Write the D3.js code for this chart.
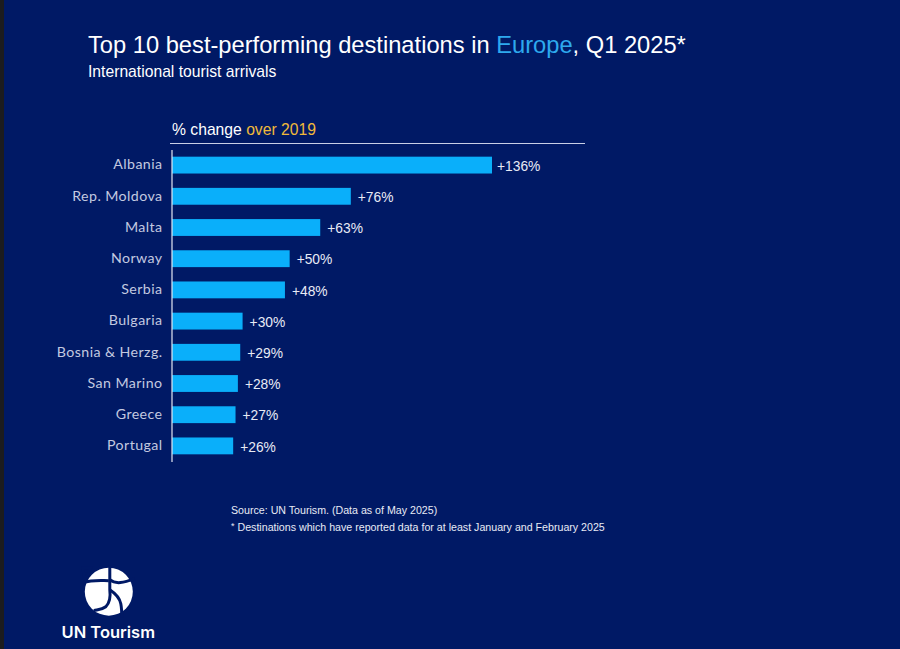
<!DOCTYPE html>
<html>
<head>
<meta charset="utf-8">
<script src="https://cdn.jsdelivr.net/npm/d3@7"></script>
<style>
  html, body { margin: 0; padding: 0; background: #001965; }
  svg { display: block; }
</style>
</head>
<body>
<div id="chart"></div>
<script>
var categories = ['Albania', 'Rep. Moldova', 'Malta', 'Norway', 'Serbia', 'Bulgaria', 'Bosnia & Herzg.', 'San Marino', 'Greece', 'Portugal'];
var values = [136, 76, 63, 50, 48, 30, 29, 28, 27, 26];

var width = 900;
var height = 649;
var sans = '"Liberation Sans", Arial, sans-serif';

var svg = d3.select('#chart')
  .append('svg')
    .attr('width', width)
    .attr('height', height);

svg.append('rect')
  .attr('width', width)
  .attr('height', height)
  .attr('fill', '#001965');

// dark strip from the screenshot edge
svg.append('rect')
  .attr('width', 4)
  .attr('height', height)
  .attr('fill', '#1c1c1e');

// scales
var x = d3.scaleLinear()
  .domain([0, 136])
  .range([172, 492]);

var y = d3.scaleBand()
  .domain(categories)
  .range([149.5, 461.5])
  .paddingInner(0.46)
  .paddingOuter(0.23);

// title
var title = svg.append('text')
  .attr('x', 88)
  .attr('y', 52.5)
  .attr('font-family', sans)
  .attr('font-size', 23.7)
  .attr('fill', '#ffffff');
title.append('tspan').text('Top 10 best-performing destinations in ');
title.append('tspan').attr('fill', '#2ea9ee').text('Europe');
title.append('tspan').text(', Q1 2025*');

svg.append('text')
  .attr('x', 88)
  .attr('y', 77)
  .attr('font-family', sans)
  .attr('font-size', 15.7)
  .attr('fill', '#ffffff')
  .text('International tourist arrivals');

// header over the bars
var head = svg.append('text')
  .attr('x', 172)
  .attr('y', 135)
  .attr('font-family', sans)
  .attr('font-size', 15.7)
  .attr('fill', '#ffffff');
head.append('tspan').text('% change ');
head.append('tspan').attr('fill', '#f0b93a').text('over 2019');

svg.append('line')
  .attr('x1', 170).attr('x2', 585)
  .attr('y1', 143.5).attr('y2', 143.5)
  .attr('stroke', '#c9cfe6')
  .attr('stroke-width', 1);

// bars
svg.selectAll('rect.bar')
  .data(values).enter()
  .append('rect')
  .attr('class', 'bar')
  .attr('x', x(0))
  .attr('y', function(d, i) { return y(categories[i]); })
  .attr('width', function(d) { return x(d) - x(0); })
  .attr('height', y.bandwidth())
  .attr('fill', '#0aaffa');

// category axis, the labels sit to the left of the line
var yAxis = svg.append('g')
  .attr('transform', 'translate(171.5,0)')
  .call(d3.axisLeft(y).tickSize(0).tickPadding(9));
yAxis.select('.domain')
  .attr('stroke', '#e4e7f2')
  .attr('stroke-width', 1.2);
yAxis.selectAll('text')
  .attr('font-family', 'Lato, sans-serif')
  .attr('font-size', 14.2)
  .attr('letter-spacing', 0.42)
  .attr('dy', '0.3em')
  .attr('fill', '#c3c9e0');

// value labels, the long first bar has its label a little closer
svg.selectAll('text.value')
  .data(values).enter()
  .append('text')
  .attr('class', 'value')
  .attr('x', function(d, i) { return x(d) + (i === 0 ? 5 : 7); })
  .attr('y', function(d, i) { return y(categories[i]) + y.bandwidth() / 2 + 5.6; })
  .attr('font-family', sans)
  .attr('font-size', 13.8)
  .attr('fill', '#e8ebf5')
  .text(function(d) { return '+' + d + '%'; });

// footnotes
svg.append('text')
  .attr('x', 231)
  .attr('y', 514)
  .attr('font-family', sans)
  .attr('font-size', 10.65)
  .attr('fill', '#e8ebf5')
  .text('Source: UN Tourism. (Data as of May 2025)');

var note = svg.append('text')
  .attr('x', 231)
  .attr('y', 531)
  .attr('font-family', sans)
  .attr('font-size', 10.65)
  .attr('fill', '#e8ebf5');
note.append('tspan').attr('dy', -2).attr('font-size', 9).text('*');
note.append('tspan').attr('dy', 2).text(' Destinations which have reported data for at least January and February 2025');

// logo: globe cut into land shapes
var logo = svg.append('g').attr('transform', 'translate(108.8,591.7)');
logo.append('circle').attr('r', 24).attr('fill', '#ffffff');
var cuts = [
  'M-26,-9 C-16,-12 -8,-11 0,-11',
  'M1,-26 L1,-2 C2,6 1,11 -3,15 C-7,18 -11,18 -15,19',
  'M1,-2 C7,2 11,7 12,12 C13,17 13,20 13,26',
  'M1,-12 C7,-7 15,-9 26,-13',
  'M-24,-11 L-18,-24 L-26,-24 Z'
];
logo.selectAll('path')
  .data(cuts).enter()
  .append('path')
  .attr('d', function(d) { return d; })
  .attr('fill', 'none')
  .attr('stroke', '#001965')
  .attr('stroke-width', 3);

svg.append('text')
  .attr('x', 61.5)
  .attr('y', 638)
  .attr('font-family', '"Inter", sans-serif')
  .attr('font-weight', 600)
  .attr('font-size', 16.5)
  .attr('fill', '#ffffff')
  .text('UN Tourism');
</script>
</body>
</html>
